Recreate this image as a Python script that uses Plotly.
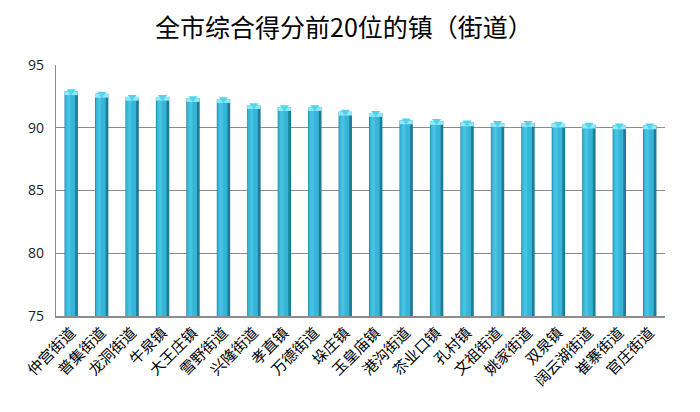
import plotly.graph_objects as go

# 镇（街道）名称与综合得分
towns = ['仲宫街道', '普集街道', '龙洞街道', '牛泉镇', '大王庄镇', '雪野街道', '兴隆街道',
         '孝直镇', '万德街道', '垛庄镇', '玉皇庙镇', '港沟街道', '苶业口镇', '孔村镇',
         '文祖街道', '姚家街道', '双泉镇', '阔云湖街道', '崔寨街道', '官庄街道']
scores = [92.9, 92.7, 92.46, 92.46, 92.36, 92.28, 91.8, 91.64, 91.64, 91.27,
          91.17, 90.58, 90.53, 90.42, 90.37, 90.37, 90.32, 90.24, 90.18, 90.18]

cap = 0.3
cap_base = [s - cap for s in scores]

fig = go.Figure()

# bar body (dark edge)
fig.add_trace(go.Bar(x=towns, y=scores, width=0.44, offset=-0.22,
                     marker=dict(color='#1d7d98', line=dict(width=0)),
                     hoverinfo='skip', showlegend=False))
# lit face
fig.add_trace(go.Bar(x=towns, y=scores, width=0.33, offset=-0.2,
                     marker=dict(color='#38b4d6', line=dict(width=0)),
                     showlegend=False))
# highlight strip
fig.add_trace(go.Bar(x=towns, y=scores, width=0.12, offset=-0.14,
                     marker=dict(color='#45c3e3', line=dict(width=0)),
                     hoverinfo='skip', showlegend=False))
# top face
fig.add_trace(go.Bar(x=towns, y=[cap] * len(scores), base=cap_base, width=0.44, offset=-0.22,
                     marker=dict(color='#8fe9f8', line=dict(width=0)),
                     hoverinfo='skip', showlegend=False))
fig.add_trace(go.Scatter(x=towns, y=scores, mode='markers',
                         marker=dict(symbol='triangle-down', size=8, color='#4fd6ee',
                                     line=dict(width=0)),
                         hoverinfo='skip', showlegend=False))

fig.update_layout(
    width=700, height=412,
    barmode='overlay',
    paper_bgcolor='white', plot_bgcolor='white',
    title=dict(text='全市综合得分前20位的镇（街道）', x=0.48, xanchor='center',
               y=0.95, yanchor='middle',
               font=dict(family='Noto Sans CJK SC', size=25, color='black')),
    margin=dict(l=48, r=43, t=57, b=104),
    font=dict(family='Noto Sans CJK SC', color='black'),
)
fig.update_xaxes(tickangle=-45, tickfont=dict(family='Noto Sans CJK SC', size=15),
                 showline=True, linecolor='#8c8c8c', linewidth=2, ticks='',
                 range=[-0.5, 19.5], automargin=False)
fig.update_yaxes(range=[75, 95], dtick=5, showgrid=True, gridcolor='#8c8c8c', gridwidth=1.2,
                 showline=True, linecolor='#8c8c8c', linewidth=1.2, zeroline=False,
                 tickfont=dict(family='Open Sans', size=14, color='#222'), ticks='',
                 ticklabelstandoff=8, automargin=False)

fig.write_html("out.html")
